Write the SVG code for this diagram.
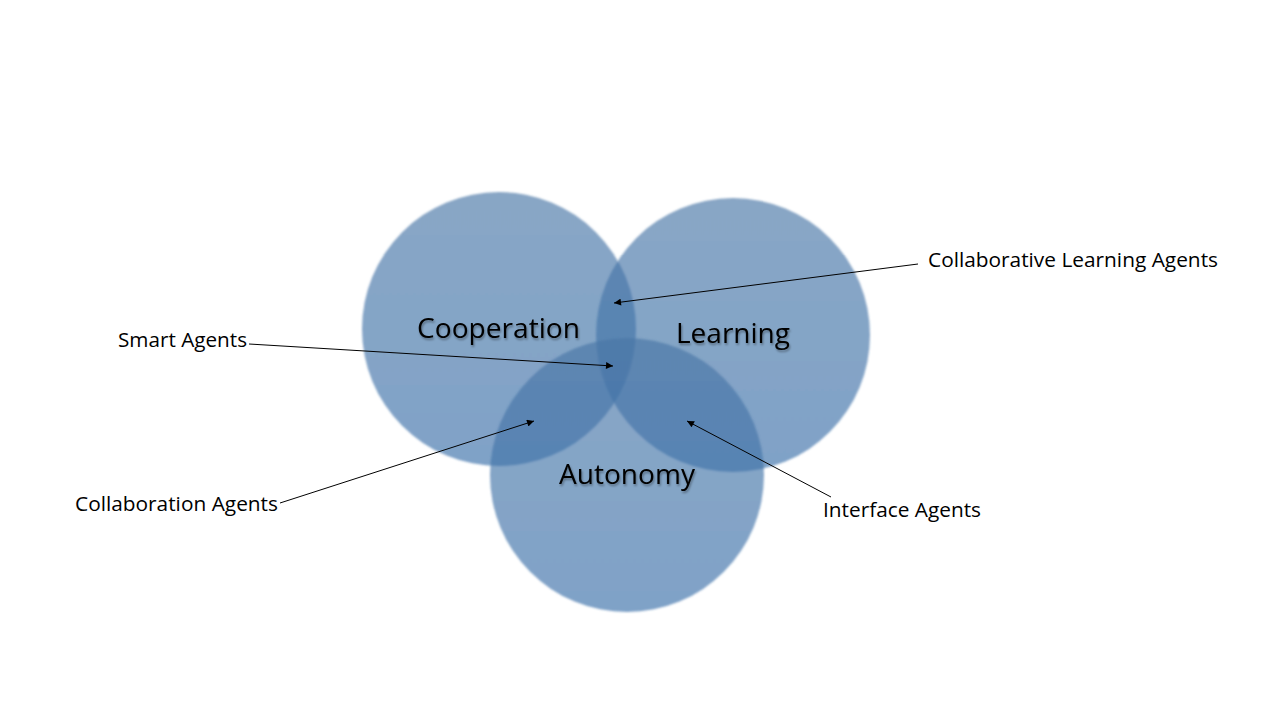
<svg xmlns="http://www.w3.org/2000/svg" width="1280" height="720" viewBox="0 0 1280 720">
  <style>
    .circle { fill: url(#circleFill); fill-opacity: 0.65; filter: url(#soft); }
    .big { font-family: "Open Sans", "Liberation Sans", sans-serif; font-size: 28px; fill: #000; filter: url(#tshadow); }
    .lbl { font-family: "Open Sans", "Liberation Sans", sans-serif; font-size: 20px; fill: #000; }
    .conn { stroke: #000; stroke-width: 1; fill: none; marker-end: url(#arrow); }
  </style>
  <defs>
    <linearGradient id="circleFill" x1="0" y1="0" x2="0" y2="1">
      <stop offset="0" stop-color="#4A77A6"/>
      <stop offset="1" stop-color="#3C70AA"/>
    </linearGradient>
    <filter id="soft" x="-10%" y="-10%" width="120%" height="120%">
      <feGaussianBlur stdDeviation="0.8"/>
    </filter>
    <filter id="tshadow" x="-10%" y="-30%" width="120%" height="160%">
      <feDropShadow dx="1" dy="2" stdDeviation="1.2" flood-color="#000" flood-opacity="0.35"/>
    </filter>
    <marker id="arrow" viewBox="0 0 10 10" refX="10" refY="5" markerWidth="9" markerHeight="7" markerUnits="userSpaceOnUse" orient="auto">
      <path d="M0,0 L10,5 L0,10 Z" fill="#000"/>
    </marker>
  </defs>
  <rect width="1280" height="720" fill="#fff"/>

  <g id="node-cooperation">
    <circle class="circle" cx="499" cy="329" r="137"/>
  </g>
  <g id="node-learning">
    <circle class="circle" cx="733" cy="335" r="137"/>
  </g>
  <g id="node-autonomy">
    <circle class="circle" cx="627" cy="475" r="137"/>
  </g>

  <g id="circle-labels">
    <text class="big" x="417" y="338" textLength="163" lengthAdjust="spacingAndGlyphs">Cooperation</text>
    <text class="big" x="676" y="343" textLength="114" lengthAdjust="spacingAndGlyphs">Learning</text>
    <text class="big" x="559" y="484" textLength="136" lengthAdjust="spacingAndGlyphs">Autonomy</text>
  </g>

  <g id="connectors">
    <line class="conn" x1="918" y1="264" x2="614" y2="303"/>
    <line class="conn" x1="249" y1="344" x2="613" y2="366"/>
    <line class="conn" x1="280" y1="503" x2="534" y2="421"/>
    <line class="conn" x1="831" y1="497" x2="687" y2="421"/>
  </g>

  <g id="label-collab-learning">
    <text class="lbl" x="928" y="267" textLength="290" lengthAdjust="spacingAndGlyphs">Collaborative Learning Agents</text>
  </g>
  <g id="label-smart">
    <text class="lbl" x="118" y="347" textLength="129" lengthAdjust="spacingAndGlyphs">Smart Agents</text>
  </g>
  <g id="label-collaboration">
    <text class="lbl" x="75" y="511" textLength="203" lengthAdjust="spacingAndGlyphs">Collaboration Agents</text>
  </g>
  <g id="label-interface">
    <text class="lbl" x="823" y="517" textLength="158" lengthAdjust="spacingAndGlyphs">Interface Agents</text>
  </g>
</svg>
